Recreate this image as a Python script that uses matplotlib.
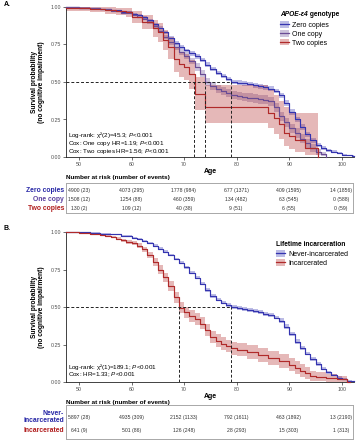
import matplotlib
matplotlib.use("Agg")
import matplotlib.pyplot as plt
from matplotlib.patches import Patch
from matplotlib.lines import Line2D
import numpy as np

plt.rcParams['font.family'] = ['Liberation Sans', 'DejaVu Sans']
plt.rcParams['mathtext.fontset'] = 'custom'
plt.rcParams['mathtext.rm'] = 'Liberation Sans'
plt.rcParams['mathtext.it'] = 'Liberation Sans:italic'
plt.rcParams['mathtext.bf'] = 'Liberation Sans:bold'

# ---------------- DATA ----------------
# Panel A: APOE-e4 genotype
age_zero = [47.5, 50, 52, 54, 56, 58,
            60, 61, 62, 63, 64, 65, 66, 67, 68, 69,
            70, 71, 72, 73, 74, 75, 76, 77, 78, 79,
            80, 81, 82, 83, 84, 85, 86, 87, 88, 89,
            90, 91, 92, 93, 94, 95, 96, 97, 98, 99,
            100, 101, 102, 102.3]
surv_zero = [1.0, 0.995, 0.99, 0.985, 0.978, 0.968,
             0.955, 0.945, 0.93, 0.91, 0.885, 0.86, 0.83, 0.795, 0.76, 0.735,
             0.71, 0.69, 0.67, 0.645, 0.615, 0.585, 0.56, 0.54, 0.52, 0.50,
             0.495, 0.49, 0.485, 0.478, 0.472, 0.465, 0.455, 0.44, 0.41, 0.36,
             0.30, 0.25, 0.20, 0.15, 0.11, 0.08, 0.06, 0.045, 0.035, 0.025,
             0.016, 0.01, 0.005, 0.005]
hw_zero = [0.0, 0.002, 0.003, 0.004, 0.004, 0.005,
           0.006, 0.006, 0.007, 0.008, 0.009, 0.01, 0.011, 0.012, 0.012, 0.013,
           0.013, 0.014, 0.014, 0.014, 0.015, 0.015, 0.015, 0.015, 0.015, 0.015,
           0.015, 0.015, 0.015, 0.016, 0.016, 0.016, 0.016, 0.016, 0.017, 0.018,
           0.018, 0.018, 0.017, 0.016, 0.014, 0.012, 0.011, 0.01, 0.009, 0.008,
           0.007, 0.006, 0.005, 0.005]

age_one = [47.5, 50, 52, 54, 56, 58,
           60, 61, 62, 63, 64, 65, 66, 67, 68, 69,
           70, 71, 72, 73, 74, 75, 76, 77, 78, 79,
           80, 81, 82, 83, 84, 85, 86, 87, 88, 89,
           90, 91, 92, 93, 94, 95, 96, 97]
surv_one = [1.0, 0.995, 0.99, 0.984, 0.975, 0.963,
            0.948, 0.935, 0.92, 0.90, 0.87, 0.84, 0.80, 0.765, 0.73, 0.70,
            0.675, 0.64, 0.60, 0.555, 0.50, 0.475, 0.455, 0.44, 0.425, 0.415,
            0.408, 0.40, 0.395, 0.39, 0.385, 0.38, 0.37, 0.33, 0.27, 0.23,
            0.19, 0.16, 0.12, 0.09, 0.06, 0.035, 0.02, 0.0]
hw_one = [0.0, 0.003, 0.004, 0.005, 0.006, 0.007,
          0.008, 0.009, 0.01, 0.011, 0.012, 0.014, 0.016, 0.018, 0.02, 0.021,
          0.022, 0.023, 0.024, 0.025, 0.026, 0.027, 0.027, 0.028, 0.028, 0.028,
          0.028, 0.028, 0.029, 0.029, 0.029, 0.03, 0.03, 0.031, 0.032, 0.032,
          0.032, 0.031, 0.03, 0.028, 0.025, 0.02, 0.015, 0.0]

age_two = [47.5, 52, 55, 57, 59, 60, 62, 64, 65, 66, 67, 68, 69, 70, 71, 72,
           74, 86, 87, 88, 89, 90, 91, 93, 95.5]
surv_two = [0.99, 0.985, 0.98, 0.975, 0.965, 0.93, 0.90, 0.86, 0.83, 0.78, 0.73,
            0.65, 0.62, 0.60, 0.55, 0.42, 0.333, 0.295, 0.26, 0.22, 0.16, 0.14,
            0.11, 0.06, 0.0]
lo_two = [0.975, 0.965, 0.955, 0.945, 0.93, 0.89, 0.85, 0.80, 0.765, 0.71, 0.655,
          0.565, 0.535, 0.51, 0.455, 0.31, 0.227, 0.19, 0.155, 0.12, 0.07, 0.05,
          0.03, 0.01, 0.0]
hi_two = [1.0, 1.0, 1.0, 0.995, 0.99, 0.97, 0.945, 0.915, 0.89, 0.845, 0.80,
          0.73, 0.70, 0.685, 0.645, 0.53, 0.48, 0.45, 0.41, 0.37, 0.33, 0.30,
          0.29, 0.29, 0.0]

medians_a = [78.9, 74.0, 71.9]
labels_a = ["Zero copies", "One copy", "Two copies"]
risk_a = {
    "Zero copies": ([4900, 4073, 1778, 677, 409, 14], [23, 295, 984, 1371, 1595, 1856]),
    "One copy": ([1508, 1254, 460, 134, 63, 0], [12, 88, 359, 482, 545, 588]),
    "Two copies": ([130, 109, 40, 9, 6, 0], [2, 12, 38, 51, 55, 59]),
}

# Panel B: lifetime incarceration
age_never = [47.5, 50, 52, 54, 56, 58,
             60, 61, 62, 63, 64, 65, 66, 67, 68, 69,
             70, 71, 72, 73, 74, 75, 76, 77, 78, 79,
             80, 81, 82, 83, 84, 85, 86, 87, 88, 89,
             90, 91, 92, 93, 94, 95, 96, 97, 98, 99,
             100, 101, 102, 102.3]
surv_never = [1.0, 0.998, 0.995, 0.99, 0.985, 0.975,
              0.962, 0.952, 0.94, 0.925, 0.91, 0.89, 0.87, 0.845, 0.82, 0.795,
              0.765, 0.73, 0.695, 0.655, 0.615, 0.575, 0.55, 0.53, 0.515, 0.50,
              0.495, 0.488, 0.48, 0.472, 0.465, 0.455, 0.445, 0.43, 0.41, 0.37,
              0.32, 0.27, 0.225, 0.19, 0.155, 0.12, 0.09, 0.065, 0.045, 0.03,
              0.018, 0.01, 0.005, 0.005]
hw_never = [0.0, 0.001, 0.002, 0.003, 0.003, 0.004,
            0.005, 0.005, 0.006, 0.006, 0.007, 0.007, 0.008, 0.008, 0.009, 0.009,
            0.01, 0.01, 0.011, 0.011, 0.012, 0.012, 0.012, 0.012, 0.012, 0.012,
            0.012, 0.012, 0.012, 0.012, 0.013, 0.013, 0.013, 0.013, 0.014, 0.014,
            0.014, 0.014, 0.013, 0.013, 0.012, 0.011, 0.01, 0.009, 0.008, 0.007,
            0.006, 0.005, 0.004, 0.004]

age_inc = [47.5, 50, 52, 54,
           55, 56, 57, 58, 59, 60, 61, 62, 63, 64,
           65, 66, 67, 68, 69, 70, 71, 72, 73, 74,
           75, 76, 77, 78, 79, 80,
           82, 84, 86, 88,
           90, 91, 92, 93, 94, 95,
           97, 99, 101, 101.5]
surv_inc = [1.0, 0.995, 0.99, 0.982,
            0.975, 0.965, 0.955, 0.945, 0.935, 0.925, 0.91, 0.885, 0.845, 0.80,
            0.75, 0.70, 0.64, 0.565, 0.495, 0.465, 0.44, 0.42, 0.39, 0.345,
            0.30, 0.275, 0.255, 0.24, 0.225, 0.215,
            0.20, 0.18, 0.16, 0.14,
            0.115, 0.095, 0.075, 0.06, 0.04, 0.035,
            0.025, 0.02, 0.0, 0.0]
hw_inc = [0.0, 0.003, 0.004, 0.006,
          0.007, 0.008, 0.009, 0.01, 0.012, 0.014, 0.016, 0.018, 0.021, 0.024,
          0.027, 0.03, 0.033, 0.035, 0.037, 0.038, 0.039, 0.04, 0.04, 0.041,
          0.041, 0.042, 0.042, 0.043, 0.043, 0.043,
          0.044, 0.044, 0.045, 0.045,
          0.045, 0.045, 0.042, 0.038, 0.034, 0.03,
          0.025, 0.02, 0.0, 0.0]

medians_b = [78.9, 69.0]
labels_b = ["Never-incarcerated", "Incarcerated"]
risk_b = {
    "Never-incarcerated": ([5897, 4935, 2152, 792, 463, 13], [28, 309, 1133, 1611, 1892, 2190]),
    "Incarcerated": ([641, 501, 126, 28, 15, 1], [9, 86, 248, 293, 303, 313]),
}

risk_ages = [50, 60, 70, 80, 90, 100]

# ---------------- STYLE ----------------
W, H = 356, 440
BLUE = '#3434b0'
PURPLE = '#6a4c95'
RED = '#b02a2a'
LBL_BLUE = '#2626a6'
LBL_PURPLE = '#5a3fa0'
LBL_RED = '#b01c1c'
ALPHA = 0.33
XLIM = (47.53, 102.3)

fig = plt.figure(figsize=(W / 100, H / 100), dpi=100)


def fy(py):
    return 1 - py / H


def make_axes(top_px):
    ax = fig.add_axes([66 / W, 1 - (top_px + 150) / H, 288 / W, 150 / H])
    ax.set_xlim(*XLIM)
    ax.set_ylim(0, 1.0)
    for s in ['top', 'right']:
        ax.spines[s].set_visible(False)
    for s in ['left', 'bottom']:
        ax.spines[s].set_linewidth(0.6)
        ax.spines[s].set_color('#222222')
    ax.set_xticks(risk_ages)
    ax.set_yticks([0, 0.25, 0.5, 0.75, 1.0])
    ax.set_yticklabels(["0.00", "0.25", "0.50", "0.75", "1.00"])
    ax.tick_params(length=2, width=0.5, colors='#333333', labelsize=3.8,
                   labelcolor='#4d4d4d', pad=1.5)
    ax.set_xlabel("Age", fontsize=5, fontweight='bold', labelpad=1)
    ax.set_ylabel("Survival probability\n(no cognitive impairment)", fontsize=4.8,
                  fontweight='bold', labelpad=4, linespacing=1.1)
    return ax


def draw_curve(ax, ages, surv, lo, hi, color):
    ages = np.asarray(ages, float)
    surv = np.asarray(surv, float)
    lo = np.clip(np.asarray(lo, float), 0, 1)
    hi = np.clip(np.asarray(hi, float), 0, 1)
    ax.fill_between(ages, lo, hi, step='post', color=color, alpha=ALPHA, lw=0)
    ax.step(ages, surv, where='post', color=color, lw=0.85, clip_on=False, zorder=3)


def draw_medians(ax, meds):
    ax.plot([XLIM[0], max(meds)], [0.5, 0.5], color='#222222', lw=0.7,
            ls=(0, (3, 2)), zorder=4)
    for m in meds:
        ax.plot([m, m], [0, 0.5], color='#222222', lw=0.7, ls=(0, (3, 2)), zorder=4)


def draw_table(top_px, bot_px, row_px, labels, risk, lblcolors, header_px, twoline=None):
    axt = fig.add_axes([66 / W, 1 - bot_px / H, 287 / W, (bot_px - top_px) / H])
    axt.set_xlim(*XLIM)
    axt.set_ylim(bot_px, top_px)
    axt.set_xticks([])
    axt.set_yticks([])
    for s in axt.spines.values():
        s.set_color('#a8a8a8')
        s.set_linewidth(0.7)
    for lab, ypx, col in zip(labels, row_px, lblcolors):
        n, e = risk[lab]
        for a, nn, ee in zip(risk_ages, n, e):
            axt.text(a, ypx, f"{nn} ({ee})", ha='center', va='center',
                     fontsize=3.7, color='#333333')
        disp = lab if (twoline is None or lab not in twoline) else twoline[lab]
        fig.text(64 / W, fy(ypx), disp, ha='right', va='center', fontsize=4.9,
                 fontweight='bold', color=col, linespacing=1.05)
    fig.text(66 / W, fy(header_px), "Number at risk (number of events)",
             fontsize=4.6, fontweight='bold', va='center')


def legend_handle(color):
    return (Patch(facecolor=color, alpha=ALPHA, lw=0),
            Line2D([], [], color=color, lw=0.9))


# ---------------- PANEL A ----------------
axA = make_axes(7)
draw_curve(axA, age_zero, surv_zero,
           np.subtract(surv_zero, hw_zero), np.add(surv_zero, hw_zero), BLUE)
draw_curve(axA, age_one, surv_one,
           np.subtract(surv_one, hw_one), np.add(surv_one, hw_one), PURPLE)
draw_curve(axA, age_two, surv_two, lo_two, hi_two, RED)
draw_medians(axA, medians_a)

fs_ann = 4.5
fig.text(68 / W, fy(135), "Log-rank: χ²(2)=45.3; $P$<0.001", fontsize=fs_ann, va='center')
fig.text(68 / W, fy(143), "Cox: One copy HR=1.19; $P$<0.001", fontsize=fs_ann, va='center')
fig.text(68 / W, fy(151), "Cox: Two copies HR=1.56; $P$<0.001", fontsize=fs_ann, va='center')

t1 = fig.text(280 / W, fy(14), "APOE-ε4", fontsize=4.8, fontweight='bold',
              fontstyle='italic', va='center')
axA.annotate(" genotype", xy=(1, 0.5), xycoords=t1, fontsize=4.8, fontweight='bold',
             va='center', ha='left', annotation_clip=False)
legA = axA.legend([legend_handle(c) for c in (BLUE, PURPLE, RED)], labels_a,
                  loc='upper left', bbox_to_anchor=(280 / W, fy(21.5)),
                  bbox_transform=fig.transFigure, frameon=False, fontsize=5,
                  handlelength=1.25, handleheight=1.0, labelspacing=0.2,
                  handletextpad=0.5, borderpad=0, borderaxespad=0)

fig.text(4 / W, fy(4), "A.", fontsize=5, fontweight='bold', va='center')

draw_table(183, 213, [190, 199, 208], labels_a, risk_a,
           [LBL_BLUE, LBL_PURPLE, LBL_RED], 178)

# ---------------- PANEL B ----------------
axB = make_axes(232)
draw_curve(axB, age_never, surv_never,
           np.subtract(surv_never, hw_never), np.add(surv_never, hw_never), BLUE)
draw_curve(axB, age_inc, surv_inc,
           np.subtract(surv_inc, hw_inc), np.add(surv_inc, hw_inc), RED)
draw_medians(axB, medians_b)

fig.text(68 / W, fy(367), "Log-rank: χ²(1)=189.1; $P$<0.001", fontsize=fs_ann, va='center')
fig.text(68 / W, fy(375), "Cox: HR=1.33; $P$<0.001", fontsize=fs_ann, va='center')

fig.text(276 / W, fy(244), "Lifetime incarceration", fontsize=4.8, fontweight='bold', va='center')
legB = axB.legend([legend_handle(c) for c in (BLUE, RED)], labels_b,
                  loc='upper left', bbox_to_anchor=(276 / W, fy(250.5)),
                  bbox_transform=fig.transFigure, frameon=False, fontsize=5,
                  handlelength=1.25, handleheight=1.0, labelspacing=0.2,
                  handletextpad=0.5, borderpad=0, borderaxespad=0)

fig.text(4 / W, fy(228), "B.", fontsize=5, fontweight='bold', va='center')

draw_table(405, 439, [417, 430], labels_b, risk_b, [LBL_BLUE, LBL_RED], 402,
           twoline={"Never-incarcerated": "Never-\nincarcerated"})

fig.savefig("out.png", dpi=100)
